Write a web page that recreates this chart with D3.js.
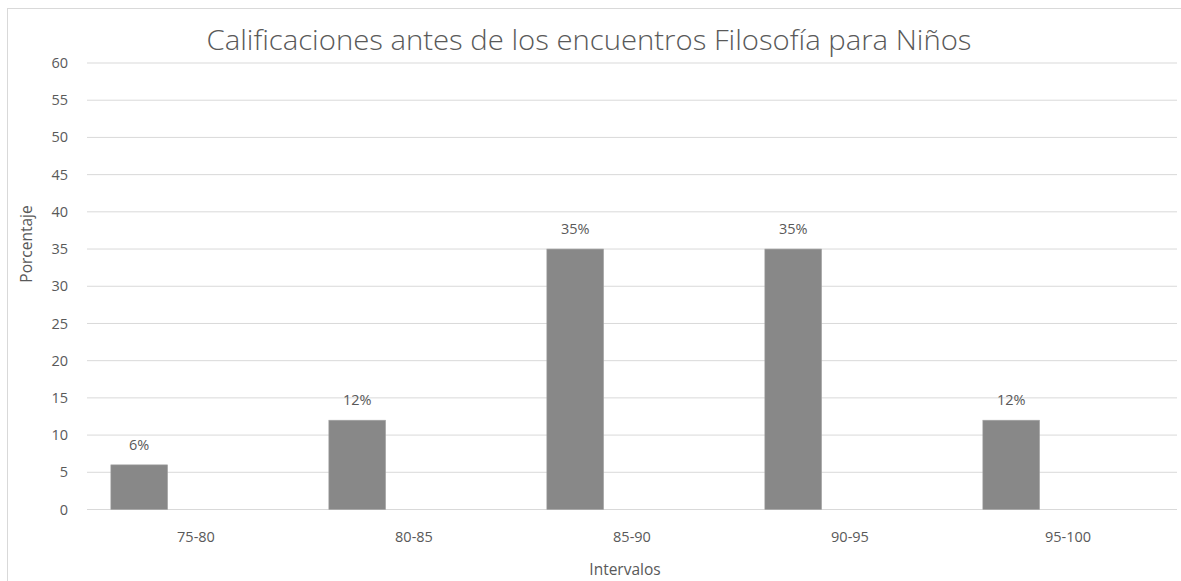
<!DOCTYPE html>
<html lang="es">
<head>
<meta charset="UTF-8">
<title>Calificaciones</title>
<script src="https://d3js.org/d3.v7.min.js"></script>
<style>
    body{margin:0;background:#fff;}
    svg text{font-family:"Open Sans",sans-serif;fill:#595959;}
</style>
</head>
<body>
<svg id="chart" width="1181" height="581"></svg>
<script>
    // data
    const intervalos = ['75-80','80-85','85-90','90-95','95-100'];
    const porcentaje = [6,12,35,35,12];
    const series = ['s1','s2','s3']; // excel cluster slots, only the first holds values
    const yTicks = d3.range(0,61,5);

    const width = 1181, height = 581;
    const m = {left:87, right:1177, top:63, bottom:509.5};
    const svg = d3.select('#chart');

    svg.append('rect')
        .attr('x',7.5).attr('y',8.5)
        .attr('width',width).attr('height',height)
        .attr('fill','none').attr('stroke','#d9d9d9');

    const x = d3.scaleBand().domain(intervalos).range([m.left,m.right]).padding(0);
    const x1 = d3.scaleBand().domain(series).range([0,x.bandwidth()]).paddingInner(0).paddingOuter(0.42);
    const y = d3.scaleLinear().domain([0,60]).range([m.bottom,m.top]);

    // gridlines
    svg.append('g').selectAll('line')
        .data(yTicks)
        .join('line')
        .attr('x1',m.left).attr('x2',m.right)
        .attr('y1',d=>y(d)).attr('y2',d=>y(d))
        .attr('stroke','#d9d9d9').attr('stroke-width',1);

    // y axis labels
    svg.append('g').selectAll('text')
        .data(yTicks)
        .join('text')
        .attr('x',68).attr('y',d=>y(d))
        .attr('dy','0.35em')
        .attr('text-anchor','end')
        .attr('font-size',14.5)
        .text(d=>d);

    // bars
    svg.append('g').selectAll('rect')
        .data(porcentaje)
        .join('rect')
        .attr('x',(d,i)=>x(intervalos[i])+x1('s1'))
        .attr('width',x1.bandwidth())
        .attr('y',d=>y(d))
        .attr('height',d=>y(0)-y(d))
        .attr('fill','#888888')
        .attr('stroke','#a6a6a6').attr('stroke-width',0.6);

    // data labels
    svg.append('g').selectAll('text')
        .data(porcentaje)
        .join('text')
        .attr('x',(d,i)=>x(intervalos[i])+x1('s1')+x1.bandwidth()/2)
        .attr('y',d=>y(d)-15)
        .attr('text-anchor','middle')
        .attr('font-size',14.5)
        .text(d=>d+'%');

    // x labels
    svg.append('g').selectAll('text')
        .data(intervalos)
        .join('text')
        .attr('x',d=>x(d)+x.bandwidth()/2)
        .attr('y',542)
        .attr('text-anchor','middle')
        .attr('font-size',14.5)
        .text(d=>d);

    svg.append('text')
        .attr('x',589).attr('y',50)
        .attr('text-anchor','middle')
        .attr('font-size',27)
        .attr('font-weight',300)
        .attr('textLength',765).attr('lengthAdjust','spacingAndGlyphs')
        .text('Calificaciones antes de los encuentros Filosofía para Niños');

    svg.append('text')
        .attr('x',625).attr('y',575)
        .attr('text-anchor','middle')
        .attr('font-size',15.5)
        .text('Intervalos');

    svg.append('text')
        .attr('transform','translate(32,244) rotate(-90)')
        .attr('text-anchor','middle')
        .attr('font-size',15.5)
        .text('Porcentaje');
</script>
</body>
</html>
